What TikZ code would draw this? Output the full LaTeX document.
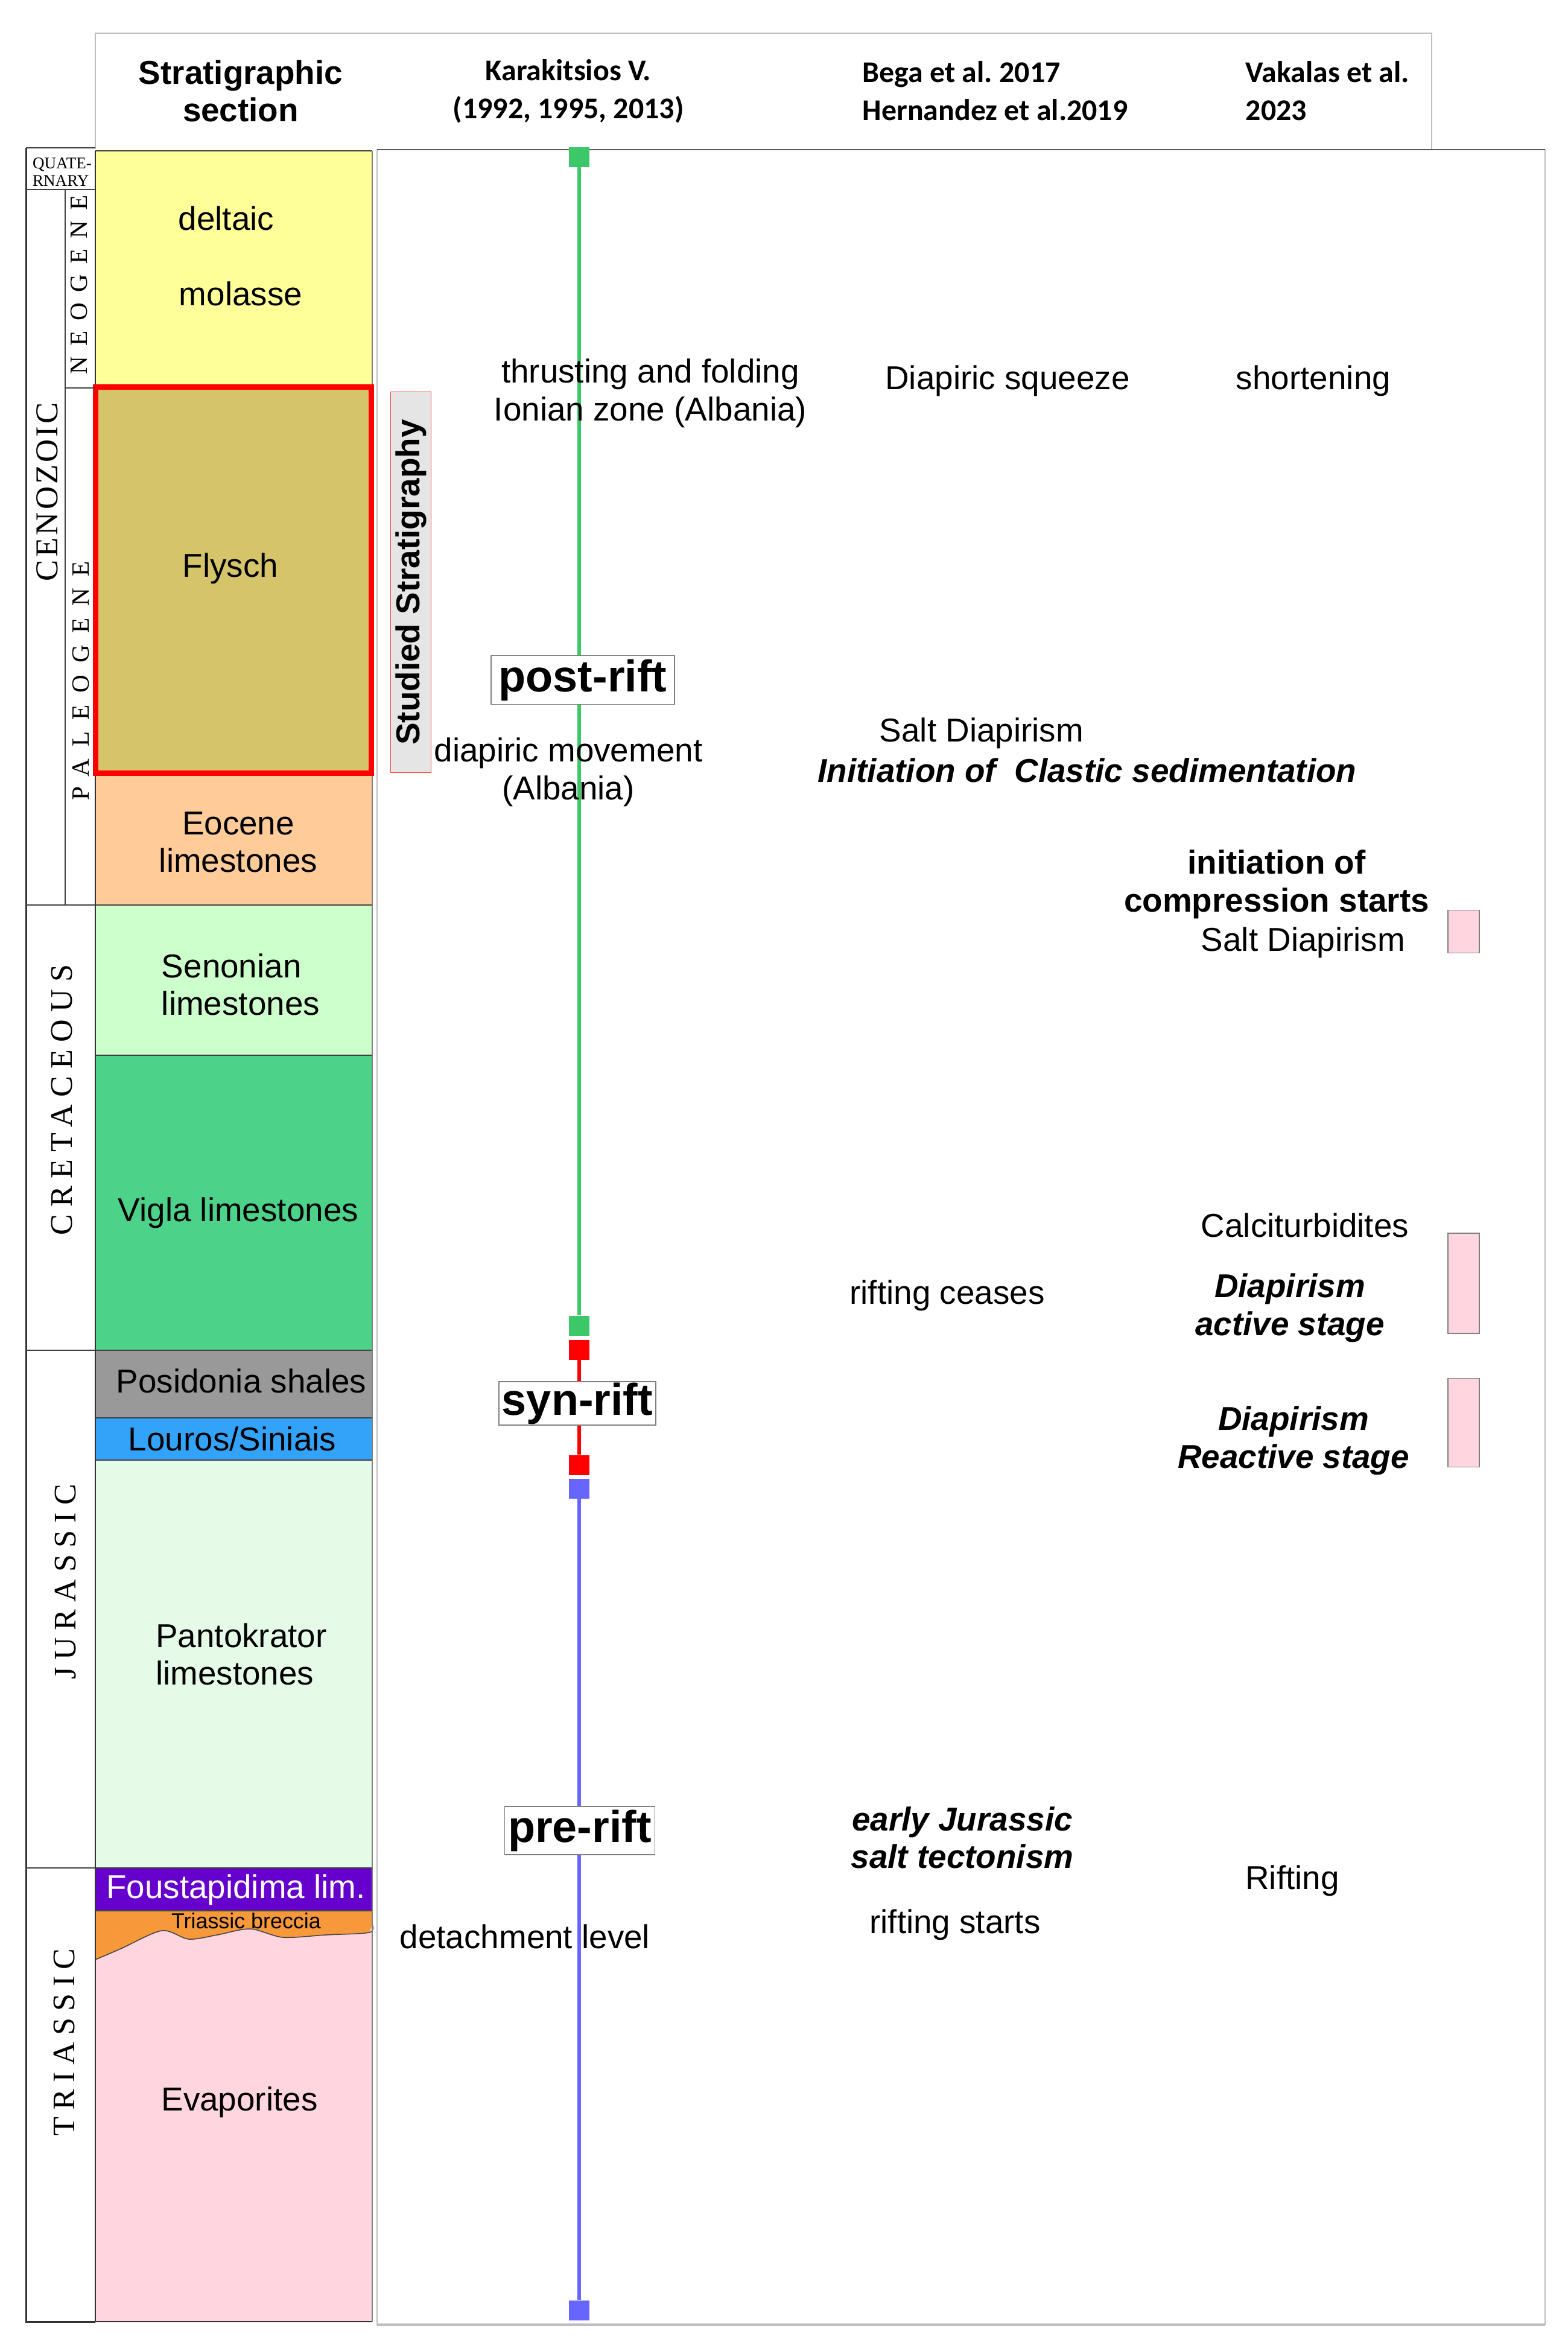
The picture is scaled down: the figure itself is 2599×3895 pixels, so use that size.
\documentclass[tikz,border=0pt]{standalone}
\usepackage{fontspec}
\setmainfont{Liberation Sans}
\newfontfamily\calibrifont{Carlito}
\newfontfamily\erafont{Liberation Serif}
\usepackage{tikz}
\frenchspacing

\definecolor{molassecol}{RGB}{255,255,153}
\definecolor{flyschcol}{RGB}{214,196,106}
\definecolor{eocenecol}{RGB}{255,204,153}
\definecolor{senoniancol}{RGB}{204,255,204}
\definecolor{viglacol}{RGB}{77,210,138}
\definecolor{posidoniacol}{RGB}{153,153,153}
\definecolor{louroscol}{RGB}{51,163,250}
\definecolor{pantocol}{RGB}{229,251,232}
\definecolor{foustcol}{RGB}{102,0,204}
\definecolor{brecciacol}{RGB}{247,153,58}
\definecolor{evapcol}{RGB}{255,213,223}
\definecolor{postcol}{RGB}{60,200,105}
\definecolor{syncol}{RGB}{255,0,0}
\definecolor{precol}{RGB}{102,102,255}
\definecolor{framecol}{RGB}{190,190,190}

\tikzset{
  txt/.style = {inner sep = 0pt, align = center, font = \fontsize{15.6}{17.8}\selectfont},
  boldtxt/.style = {txt, font = \bfseries\fontsize{15.6}{17.8}\selectfont},
  bitxt/.style = {txt, font = \bfseries\itshape\fontsize{15.6}{17.8}\selectfont},
  headtxt/.style = {inner sep = 0pt, align = left, font = \calibrifont\bfseries\fontsize{14.2}{17.9}\selectfont},
  era/.style = {inner sep = 0pt, rotate = 90},
  endbox/.style = {rectangle, inner sep = 0pt, minimum width = 3.4mm, minimum height = 3.3mm},
  stage/.style = {rectangle, draw = gray, fill = white, line width = 0.15mm, inner sep = 0pt,
    font = \bfseries\fontsize{21}{21}\selectfont},
  pinkbox/.style = {rectangle, draw = gray, fill = evapcol, line width = 0.12mm, minimum width = 5.2mm, inner sep = 0pt},
  bound/.style = {black!75, line width = 0.15mm}
}

\begin{document}
\begin{tikzpicture}[x = 0.1mm, y = -0.1mm]
\useasboundingbox (0,0) rectangle (2599,3895);

\draw [framecol, line width = 0.2mm] (158,247) -- (158,55) -- (2373,55) -- (2373,248);
\draw [framecol, line width = 0.2mm] (625,248) rectangle (2561,3853);
\draw [black!65, line width = 0.25mm] (625,248) -- (2561,248);
\draw [framecol, line width = 0.45mm] (625,3853) -- (2561,3853);

\fill [molassecol] (158,250) rectangle (617,643);
\fill [flyschcol] (158,643) rectangle (617,1282);
\fill [eocenecol] (158,1282) rectangle (617,1500);
\fill [senoniancol] (158,1500) rectangle (617,1749);
\fill [viglacol] (158,1749) rectangle (617,2238);
\fill [posidoniacol] (158,2238) rectangle (617,2350);
\fill [louroscol] (158,2350) rectangle (617,2420);
\fill [pantocol] (158,2420) rectangle (617,3096);
\fill [foustcol] (158,3096) rectangle (617,3167);
\fill [evapcol] (158,3167) rectangle (617,3848);
\fill [brecciacol] (158,3167) -- (617,3167) -- (617,3190) -- plot [smooth] coordinates {(612,3203) (540,3207) (469,3211) (415,3197) (360,3207) (313,3214) (268,3200) (200,3230) (158,3248)} -- cycle;
\draw [bound] plot [smooth] coordinates {(617,3190) (612,3203) (540,3207) (469,3211) (415,3197) (360,3207) (313,3214) (268,3200) (200,3230) (158,3248)};
\foreach \y in {250,1500,1749,2238,2350,2420,3096,3167}
  \draw [bound] (158,\y) -- (617,\y);
\draw [black!80, line width = 0.2mm] (158,250) -- (158,3848) -- (617,3848);
\draw [gray, line width = 0.15mm] (617,250) -- (617,3848);
\draw [red, line width = 0.9mm] (158.5,641.5) rectangle (615.5,1281.5);

\draw [black!80, line width = 0.3mm] (43,245) -- (43,3848) -- (158,3848);
\draw [bound] (43,245) -- (158,245);
\draw [bound] (43,314) -- (158,314);
\draw [bound] (108,314) -- (108,1500);
\draw [bound] (108,643) -- (158,643);
\draw [bound] (43,1500) -- (158,1500);
\draw [bound] (43,2238) -- (158,2238);
\draw [bound] (43,3096) -- (158,3096);

\node [inner sep = 0pt, align = left, font = \erafont\fontsize{7.7}{8.3}\selectfont] (quat) at (103,285) {QUATE-\\RNARY};
\node [era, font = \erafont\fontsize{11.7}{12}\selectfont\addfontfeature{LetterSpace=42}] (neogene) at (131,472) {NEOGENE};
\node [era, font = \erafont\fontsize{11.7}{12}\selectfont\addfontfeature{LetterSpace=48}] (paleogene) at (134,1128) {PALEOGENE};
\node [era, font = \erafont\fontsize{15}{15}\selectfont\addfontfeature{LetterSpace=8}] (cenozoic) at (78,815) {CENOZOIC};
\node [era, font = \erafont\fontsize{14.8}{15}\selectfont\addfontfeature{LetterSpace=24}] (cretaceous) at (103,1823) {CRETACEOUS};
\node [era, font = \erafont\fontsize{14.8}{15}\selectfont\addfontfeature{LetterSpace=23}] (jurassic) at (109,2622) {JURASSIC};
\node [era, font = \erafont\fontsize{14.8}{15}\selectfont\addfontfeature{LetterSpace=22}] (triassic) at (107,3385) {TRIASSIC};

\node [boldtxt] (secthead) at (399,151) {Stratigraphic\\section};
\node [headtxt, align = center] (karahead) at (942,151) {Karakitsios V.\\(1992, 1995, 2013)};
\node [headtxt, anchor = west] (begahead) at (1429,151) {Bega et al. 2017\\Hernandez et al.2019};
\node [headtxt, anchor = west] (vakahead) at (2064,151) {Vakalas et al.\\2023};

\node [txt] (deltaic) at (375,362) {deltaic};
\node [txt] (molasse) at (399,487) {molasse};
\node [txt] (flysch) at (382,942) {Flysch};
\node [txt] (eocene) at (395,1396) {Eocene\\limestones};
\node [txt, align = left] (senonian) at (399,1632) {Senonian\\limestones};
\node [txt] (vigla) at (395,2010) {Vigla limestones};
\node [txt] (posidonia) at (400,2289) {Posidonia shales};
\node [txt] (louros) at (385,2385) {Louros/Siniais};
\node [txt, align = left] (panto) at (400,2742) {Pantokrator\\limestones};
\node [txt, text = white] (foust) at (391,3132) {Foustapidima lim.};
\node [inner sep = 0pt, font = \fontsize{10.2}{11}\selectfont] (breccia) at (408,3184) {Triassic breccia};
\node [txt] (evap) at (397,3484) {Evaporites};

\node [rectangle, rotate = 90, draw = red!75, fill = black!10, line width = 0.15mm, inner sep = 0pt,
  minimum width = 63.1mm, minimum height = 6.7mm, font = \bfseries\fontsize{15.6}{17.8}\selectfont] (studied) at (681,965) {Studied Stratigraphy};

\node [endbox, fill = postcol] (g1) at (960,260) {};
\node [endbox, fill = postcol] (g2) at (960,2197) {};
\node [endbox, fill = syncol] (r1) at (960,2237) {};
\node [endbox, fill = syncol] (r2) at (960,2428) {};
\node [endbox, fill = precol] (b1) at (960,2467) {};
\node [endbox, fill = precol] (b2) at (960,3829) {};
\draw [postcol, line width = 0.6mm] (g1) -- (g2);
\draw [syncol, line width = 0.6mm] (r1) -- (r2);
\draw [precol, line width = 0.6mm] (b1) -- (b2);

\node [stage, minimum width = 30.4mm, minimum height = 8.1mm] (post) at (966,1127) {post-rift};
\node [stage, minimum width = 26mm, minimum height = 7.2mm] (syn) at (957,2326) {syn-rift};
\node [stage, minimum width = 24.9mm, minimum height = 8mm] (pre) at (961,3034) {pre-rift};

\node [txt] (thrust) at (1078,652) {thrusting and folding\\Ionian zone (Albania)};
\node [txt] (squeeze) at (1670,631) {Diapiric squeeze};
\node [txt] (shorten) at (2177,631) {shortening};
\node [txt] (diapmove) at (942,1280) {diapiric movement\\(Albania)};
\node [txt] (saltdia) at (1627,1215) {Salt Diapirism};
\node [bitxt] (clastic) at (1802,1277) {Initiation of~ Clastic sedimentation};
\node [boldtxt] (compress) at (2116,1466) {initiation of\\compression starts};
\node [txt] (saltdiab) at (2160,1562) {Salt Diapirism};
\node [txt] (calci) at (2163,2031) {Calciturbidites};
\node [bitxt] (active) at (2138,2168) {Diapirism\\active stage};
\node [bitxt] (reactive) at (2144,2388) {Diapirism\\Reactive stage};
\node [txt] (ceases) at (1570,2147) {rifting ceases};
\node [bitxt] (earlyjur) at (1595,3046) {early Jurassic\\salt tectonism};
\node [txt] (riftstart) at (1583,3190) {rifting starts};
\node [txt] (rifting) at (2142,3117) {Rifting};
\node [txt] (detach) at (870,3210) {detachment level};

\node [pinkbox, minimum height = 7.1mm] (pinka) at (2426,1544) {};
\node [pinkbox, minimum height = 16.6mm] (pinkb) at (2426,2127) {};
\node [pinkbox, minimum height = 14.7mm] (pinkc) at (2426,2358) {};
\end{tikzpicture}
\end{document}
